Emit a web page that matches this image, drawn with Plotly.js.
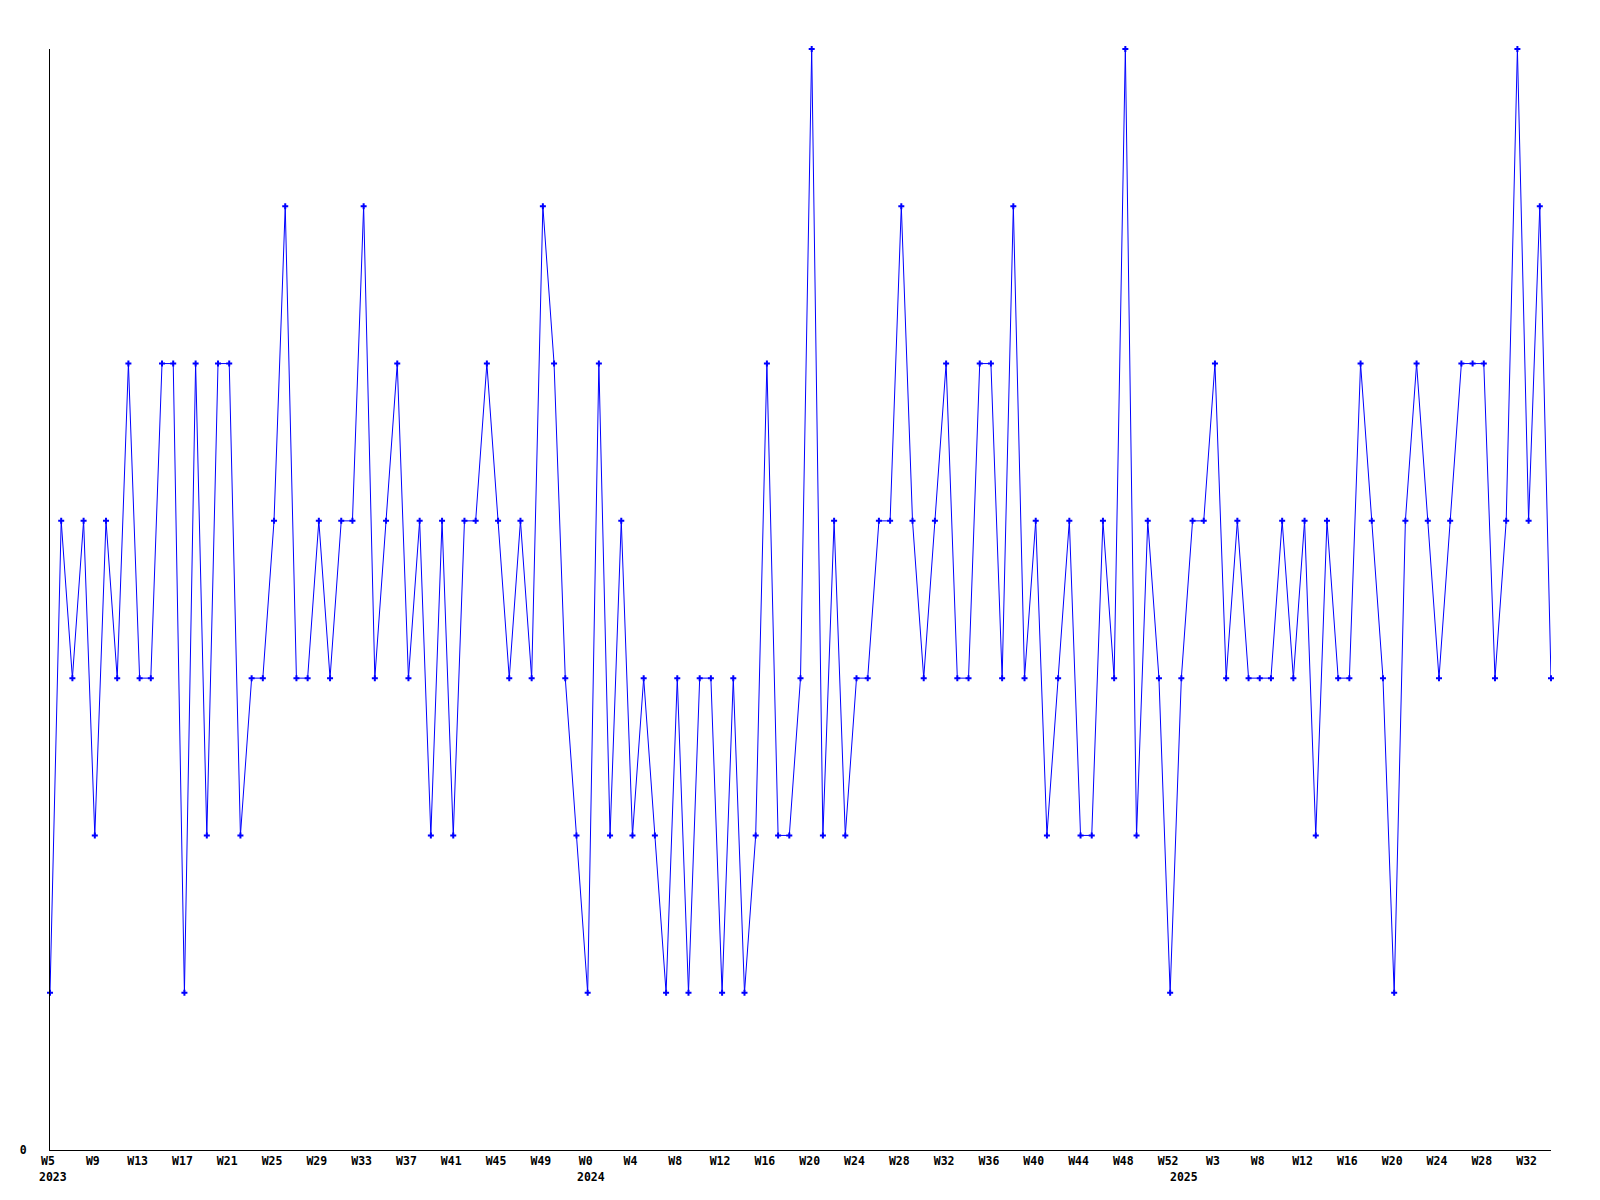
<!DOCTYPE html>
<html>
<head>
<meta charset="utf-8">
<script src="https://cdn.plot.ly/plotly-3.0.1.min.js"></script>
<style>
  html, body { margin: 0; padding: 0; background: #ffffff; }
  #chart { width: 1600px; height: 1200px; }
</style>
</head>
<body>
<div id="chart"></div>
<script>
// ---- data ----
const weeks2023 = [5,6,7,8,9,10,11,12,13,14,15,16,17,18,19,20,21,22,23,24,25,26,27,28,29,30,31,32,33,34,35,36,37,38,39,40,41,42,43,44,45,46,47,48,49,50,51,52];
const weeks2024 = [0,1,2,3,4,5,6,7,8,9,10,11,12,13,14,15,16,17,18,19,20,21,22,23,24,25,26,27,28,29,30,31,32,33,34,35,36,37,38,39,40,41,42,43,44,45,46,47,48,49,50,51,52];
const weeks2025 = [0,1,2,3,4,6,7,8,9,10,11,12,13,14,15,16,17,18,19,20,21,22,23,24,25,26,27,28,29,30,31,32,33,34];

const values2023 = [1,4,3,4,2,4,3,5,3,3,5,5,1,5,2,5,5,2,3,3,4,6,3,3,4,3,4,4,6,3,4,5,3,4,2,4,2,4,4,5,4,3,4,3,6,5,3,2];
const values2024 = [1,5,2,4,2,3,2,1,3,1,3,3,1,3,1,2,5,2,2,3,7,2,4,2,3,3,4,4,6,4,3,4,5,3,3,5,5,3,6,3,4,2,3,4,2,2,4,3,7,2,4,3,1];
const values2025 = [3,4,4,5,3,4,3,3,3,4,3,4,2,4,3,3,5,4,3,1,4,5,4,3,4,5,5,5,3,4,7,4,6,3];

const tickCategories = ["2023-W5","2023-W9","2023-W13","2023-W17","2023-W21","2023-W25","2023-W29","2023-W33","2023-W37","2023-W41","2023-W45","2023-W49",
  "2024-W0","2024-W4","2024-W8","2024-W12","2024-W16","2024-W20","2024-W24","2024-W28","2024-W32","2024-W36","2024-W40","2024-W44","2024-W48","2024-W52",
  "2025-W3","2025-W8","2025-W12","2025-W16","2025-W20","2025-W24","2025-W28","2025-W32"];
const tickLabels = ["W5","W9","W13","W17","W21","W25","W29","W33","W37","W41","W45","W49",
  "W0","W4","W8","W12","W16","W20","W24","W28","W32","W36","W40","W44","W48","W52",
  "W3","W8","W12","W16","W20","W24","W28","W32"];

const yearLabels = ["2023","2024","2025"];
const yearStarts = ["2023-W5","2024-W0","2025-W0"];

const yTickVals = [0];
const yTickLabels = ["0"];

// ---- build the series ----
const categories = []
  .concat(weeks2023.map(w => "2023-W" + w))
  .concat(weeks2024.map(w => "2024-W" + w))
  .concat(weeks2025.map(w => "2025-W" + w));
const values = [].concat(values2023, values2024, values2025);

const FONT = "DejaVu Sans Mono, Liberation Mono, monospace";

const trace = {
  type: "scatter",
  mode: "lines+markers",
  x: categories,
  y: values,
  line: { color: "#0000ff", width: 1 },
  marker: { symbol: "cross", size: 5, color: "#0000ff" },
  cliponaxis: false,
  hoverinfo: "x+y"
};

const annotations = yearLabels.map((t, i) => ({
  text: t,
  x: yearStarts[i],
  xref: "x",
  y: 0,
  yref: "paper",
  xanchor: "left",
  yanchor: "top",
  xshift: -13,
  yshift: -18,
  showarrow: false,
  font: { family: FONT, size: 11.5, color: "#000000", weight: "bold" }
}));

const layout = {
  width: 1600,
  height: 1200,
  margin: { l: 50, r: 49, t: 49, b: 50 },
  paper_bgcolor: "#ffffff",
  plot_bgcolor: "#ffffff",
  showlegend: false,
  xaxis: {
    type: "category",
    range: [0, categories.length - 1],
    showline: true,
    linecolor: "#000000",
    linewidth: 1,
    showgrid: false,
    zeroline: false,
    ticks: "",
    tickmode: "array",
    tickvals: tickCategories,
    ticktext: tickLabels,
    tickangle: 0,
    ticklabelshift: -2,
    tickfont: { family: FONT, size: 11.5, color: "#000000", weight: "bold" },
    automargin: false
  },
  yaxis: {
    range: [0, 7],
    showline: true,
    linecolor: "#000000",
    linewidth: 1,
    showgrid: false,
    zeroline: false,
    ticks: "",
    tickmode: "array",
    tickvals: yTickVals,
    ticktext: yTickLabels,
    ticklabelstandoff: 20,
    tickfont: { family: FONT, size: 11.5, color: "#000000", weight: "bold" },
    automargin: false
  },
  annotations: annotations
};

Plotly.newPlot("chart", [trace], layout, { displayModeBar: false, staticPlot: true });
</script>
</body>
</html>
